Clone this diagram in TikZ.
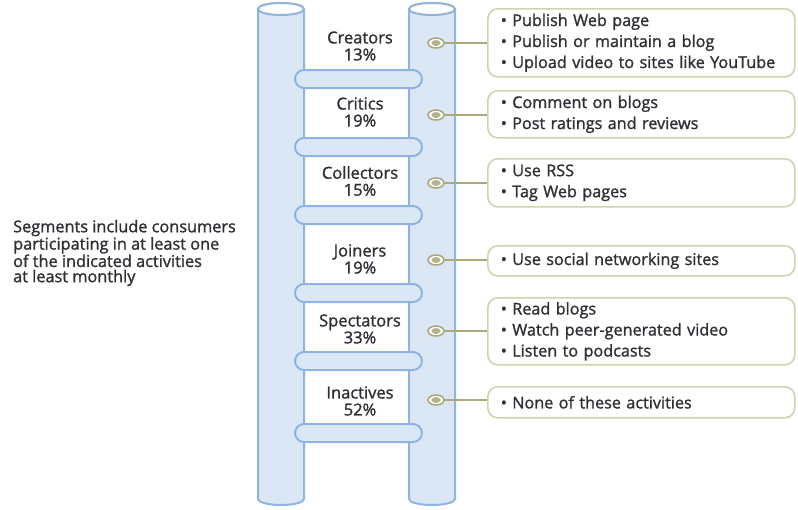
\documentclass[tikz,border=0pt]{standalone}
\usepackage{fontspec}
\usetikzlibrary{shapes.geometric}
\setmainfont{Open Sans}[FakeBold=1.3]
\definecolor{poleblue}{HTML}{DCE7F5}
\definecolor{poleline}{HTML}{8FB4E3}
\definecolor{olivedot}{HTML}{A9A97C}
\definecolor{olivein}{HTML}{B4B48C}
\definecolor{boxline}{HTML}{D2D2AC}
\definecolor{txt}{HTML}{2E2E38}
\begin{document}
\begin{tikzpicture}[x=1pt,y=-1pt,
  pole/.style={fill=poleblue,draw=poleline,line width=2pt},
  rung/.style={fill=poleblue,draw=poleline,line width=2pt,rounded corners=9pt},
  seglabel/.style={font=\fontsize{16.5}{17}\selectfont,text=txt,align=center,inner sep=0pt},
  actbox/.style={draw=boxline,line width=1.6pt,rounded corners=10pt,anchor=north west,
     minimum width=307pt,text width=281pt,inner xsep=13pt,inner ysep=0pt,align=left,
     font=\fontsize{16.2}{21}\selectfont,text=txt},
  dotring/.style={ellipse,fill=white,draw=olivedot,line width=1.6pt,minimum width=16pt,minimum height=10pt,inner sep=0pt},
  conn/.style={draw=olivedot,line width=1.2pt}]
\useasboundingbox (0,0) rectangle (798,509);
% poles
\path[pole] (258,9) -- (258,499) arc[start angle=180,end angle=0,x radius=23,y radius=6] -- (304,9) arc[start angle=0,end angle=-180,x radius=23,y radius=6] -- cycle;
\path[pole] (409,9) -- (409,499) arc[start angle=180,end angle=0,x radius=23,y radius=6] -- (455,9) arc[start angle=0,end angle=-180,x radius=23,y radius=6] -- cycle;
\draw[poleline,line width=2pt,fill=white] (281,9) ellipse[x radius=23,y radius=6];
\draw[poleline,line width=2pt,fill=white] (432,9) ellipse[x radius=23,y radius=6];
% rungs
\foreach \yy in {79,147,215,293,361,433}{
  \path[rung] (295,\yy-9) rectangle (422,\yy+9);
}
% segment labels
\node[seglabel] (s1) at (360,46) {Creators\\13\%};
\node[seglabel] (s2) at (360,112) {Critics\\19\%};
\node[seglabel] (s3) at (360,181) {Collectors\\15\%};
\node[seglabel] (s4) at (360,259) {Joiners\\19\%};
\node[seglabel] (s5) at (360,329) {Spectators\\33\%};
\node[seglabel] (s6) at (360,401) {Inactives\\52\%};
% dots
\foreach \n/\yy in {1/43,2/115,3/183,4/260,5/331,6/400}{
  \node[dotring] (d\n) at (436,\yy) {};
  \fill[olivein] (d\n.center) ellipse[x radius=4.5,y radius=3];
}
% boxes
\node[actbox,minimum height=68pt] (b1) at (487,8) {• Publish Web page\\• Publish or maintain a blog\\• Upload video to sites like YouTube};
\node[actbox,minimum height=47pt] (b2) at (487,90) {• Comment on blogs\\• Post ratings and reviews};
\node[actbox,minimum height=48pt] (b3) at (487,158) {• Use RSS\\• Tag Web pages};
\node[actbox,minimum height=30pt] (b4) at (487,245) {• Use social networking sites};
\node[actbox,minimum height=67pt] (b5) at (487,297) {• Read blogs\\• Watch peer-generated video\\• Listen to podcasts};
\node[actbox,minimum height=31pt] (b6) at (487,386) {• None of these activities};
% connectors
\foreach \n in {1,...,6}{
  \draw[conn] (d\n.east) -- (d\n.east -| b\n.west);
}
% note
\node[anchor=west,align=left,inner sep=0pt,text=txt,font=\fontsize{16.3}{15.2}\selectfont] (note) at (13,253) {Segments include consumers\\participating in at least one\\of the indicated activities\\at least monthly};
\end{tikzpicture}
\end{document}
